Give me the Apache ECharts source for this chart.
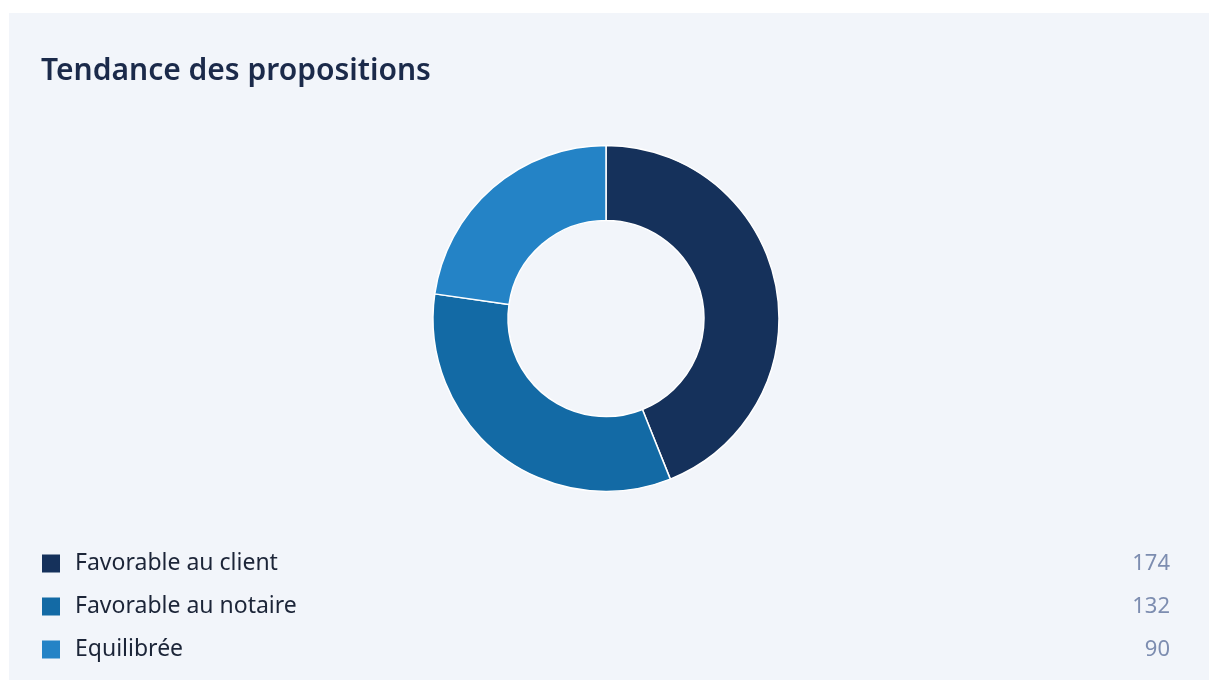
<!DOCTYPE html>
<html>
<head>
<meta charset="utf-8">
<script src="https://cdn.jsdelivr.net/npm/echarts@6/dist/echarts.min.js"></script>
<style>
	html,body{margin:0;padding:0;background:#ffffff;}
	#chart{position:absolute;left:9px;top:13px;width:1200px;height:667px;}
</style>
</head>
<body>
<div id="chart"></div>
<script>
	// données
	var categories = ['Favorable au client', 'Favorable au notaire', 'Equilibrée'];
	var values = [174, 132, 90];
	var colors = ['#15315b', '#136aa5', '#2483c6'];

	var pie_data = [];
	categories.map(function(name, i){
		pie_data.push({name: name, value: values[i], itemStyle: {color: colors[i]}});
	});

	var chart = echarts.init(document.getElementById('chart'));
	chart.setOption({
		backgroundColor: '#f2f5fa',
		title: {
			text: 'Tendance des propositions',
			left: 27,
			top: 38,
			textStyle: {
				fontFamily: 'Noto Sans',
				fontSize: 30,
				fontWeight: 600,
				color: '#1b2a4a'
			}
		},
		legend: {
			orient: 'vertical',
			left: 28,
			top: 534,
			icon: 'rect',
			itemWidth: 18,
			itemHeight: 18,
			itemGap: 20,
			selectedMode: false,
			itemStyle: {borderWidth: 0},
			formatter: function(name){
				var idx = categories.indexOf(name);
				return '{a|' + name + '}{b|' + values[idx] + '}';
			},
			textStyle: {
				fontFamily: 'Noto Sans',
				rich: {
					a: {
						fontFamily: 'Noto Sans',
						fontSize: 23,
						color: '#1c2538',
						width: 1045,
						lineHeight: 26,
						padding: [0, 0, 0, 10]
					},
					b: {
						fontFamily: 'Noto Sans',
						fontSize: 22,
						color: '#7d8db0',
						width: 50,
						align: 'right',
						lineHeight: 26
					}
				}
			}
		},
		series: [{
			type: 'pie',
			center: [597, 305.5],
			radius: [98, 173],
			startAngle: 90,
			silent: true,
			label: {show: false},
			labelLine: {show: false},
			itemStyle: {
				borderColor: '#ffffff',
				borderWidth: 1.5
			},
			data: pie_data
		}]
	});
</script>
</body>
</html>
